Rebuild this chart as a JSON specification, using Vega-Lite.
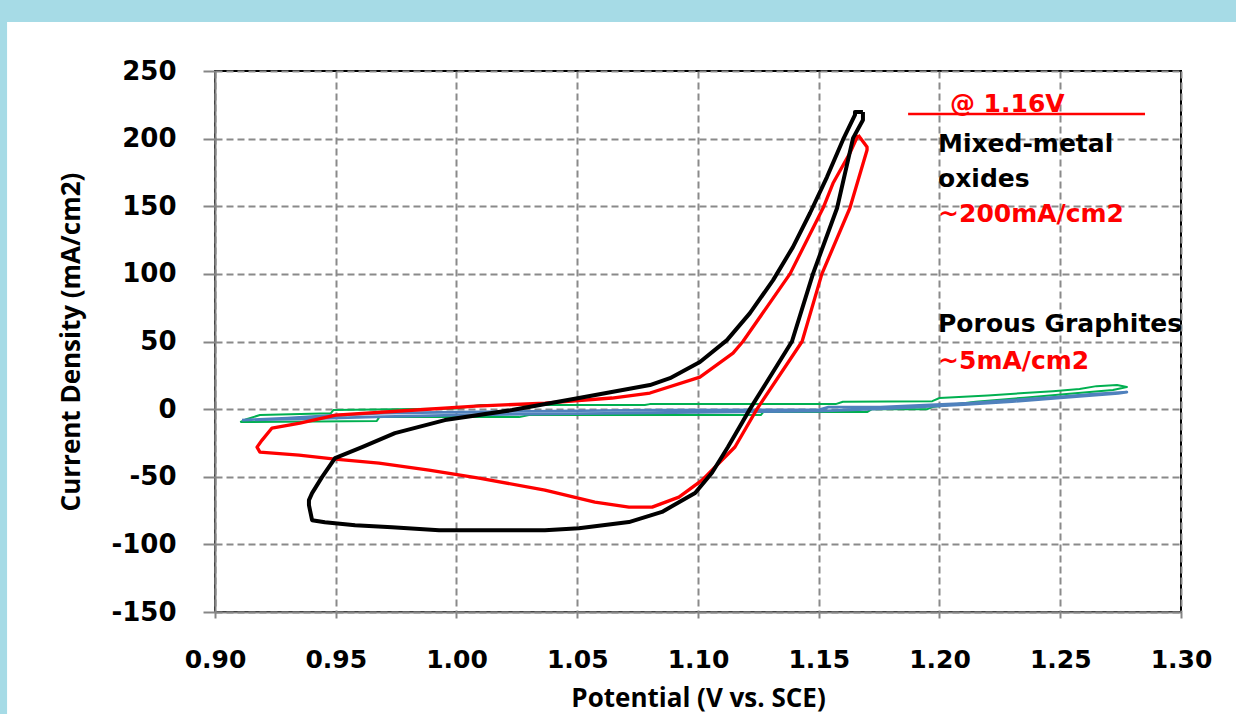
{
  "$schema": "https://vega.github.io/schema/vega-lite/v6.json",
  "width": 966,
  "height": 541,
  "autosize": {"type": "none"},
  "padding": {"left": 215, "top": 71, "right": 55, "bottom": 102},
  "background": "white",
  "config": {
    "view": {"stroke": "black", "strokeWidth": 2}
  },
  "datasets": {
    "curves": [
      {"s":"G","i":1,"v":0.9104,"c":-9.6},{"s":"G","i":2,"v":0.9130,"c":-7.5},{"s":"G","i":3,"v":0.9186,"c":-4.4},{"s":"G","i":4,"v":0.9480,"c":-3.0},{"s":"G","i":5,"v":0.9490,"c":-0.7},{"s":"G","i":6,"v":1.0000,"c":0.5},{"s":"G","i":7,"v":1.0100,"c":3.0},{"s":"G","i":8,"v":1.0780,"c":3.0},{"s":"G","i":9,"v":1.0800,"c":3.7},{"s":"G","i":10,"v":1.1570,"c":3.7},{"s":"G","i":11,"v":1.1600,"c":5.5},{"s":"G","i":12,"v":1.1970,"c":5.9},{"s":"G","i":13,"v":1.2000,"c":8.2},{"s":"G","i":14,"v":1.2200,"c":10.0},{"s":"G","i":15,"v":1.2350,"c":11.9},{"s":"G","i":16,"v":1.2470,"c":13.3},{"s":"G","i":17,"v":1.2580,"c":14.8},{"s":"G","i":18,"v":1.2650,"c":17.0},{"s":"G","i":19,"v":1.2735,"c":17.8},{"s":"G","i":20,"v":1.2776,"c":16.3},{"s":"G","i":21,"v":1.2718,"c":14.1},{"s":"G","i":22,"v":1.2550,"c":11.5},{"s":"G","i":23,"v":1.2350,"c":8.5},{"s":"G","i":24,"v":1.2150,"c":5.5},{"s":"G","i":25,"v":1.1970,"c":1.5},{"s":"G","i":26,"v":1.1950,"c":0.0},{"s":"G","i":27,"v":1.1720,"c":0.0},{"s":"G","i":28,"v":1.1700,"c":-2.2},{"s":"G","i":29,"v":1.1270,"c":-2.2},{"s":"G","i":30,"v":1.1260,"c":-4.4},{"s":"G","i":31,"v":1.0300,"c":-4.4},{"s":"G","i":32,"v":1.0260,"c":-5.9},{"s":"G","i":33,"v":0.9680,"c":-5.9},{"s":"G","i":34,"v":0.9670,"c":-8.8},{"s":"G","i":35,"v":0.9104,"c":-9.6},
      {"s":"L","i":1,"v":0.9112,"c":-8.1},{"s":"L","i":2,"v":0.9300,"c":-6.6},{"s":"L","i":3,"v":0.9500,"c":-4.4},{"s":"L","i":4,"v":0.9700,"c":-3.0},{"s":"L","i":5,"v":1.0000,"c":-2.2},{"s":"L","i":6,"v":1.0500,"c":-1.2},{"s":"L","i":7,"v":1.0800,"c":-0.7},{"s":"L","i":8,"v":1.1500,"c":-0.5},{"s":"L","i":9,"v":1.1540,"c":1.5},{"s":"L","i":10,"v":1.1754,"c":1.5},{"s":"L","i":11,"v":1.2126,"c":4.4},{"s":"L","i":12,"v":1.2304,"c":6.7},{"s":"L","i":13,"v":1.2487,"c":8.9},{"s":"L","i":14,"v":1.2636,"c":11.1},{"s":"L","i":15,"v":1.2776,"c":12.6},{"s":"L","i":16,"v":1.2740,"c":11.6},{"s":"L","i":17,"v":1.2500,"c":8.2},{"s":"L","i":18,"v":1.2300,"c":5.5},{"s":"L","i":19,"v":1.2100,"c":3.3},{"s":"L","i":20,"v":1.1800,"c":0.5},{"s":"L","i":21,"v":1.1500,"c":-1.5},{"s":"L","i":22,"v":1.1000,"c":-2.5},{"s":"L","i":23,"v":1.0500,"c":-3.3},{"s":"L","i":24,"v":1.0000,"c":-4.4},{"s":"L","i":25,"v":0.9700,"c":-5.5},{"s":"L","i":26,"v":0.9400,"c":-7.0},{"s":"L","i":27,"v":0.9112,"c":-8.1},
      {"s":"R","i":1,"v":1.1663,"c":202.7},{"s":"R","i":2,"v":1.1700,"c":193.8},{"s":"R","i":3,"v":1.1700,"c":191.6},{"s":"R","i":4,"v":1.1629,"c":148.7},{"s":"R","i":5,"v":1.1513,"c":100.0},{"s":"R","i":6,"v":1.1431,"c":50.0},{"s":"R","i":7,"v":1.1244,"c":0.0},{"s":"R","i":8,"v":1.1153,"c":-28.0},{"s":"R","i":9,"v":1.1017,"c":-52.5},{"s":"R","i":10,"v":1.0921,"c":-65.1},{"s":"R","i":11,"v":1.0810,"c":-72.5},{"s":"R","i":12,"v":1.0714,"c":-72.5},{"s":"R","i":13,"v":1.0573,"c":-68.8},{"s":"R","i":14,"v":1.0366,"c":-59.9},{"s":"R","i":15,"v":1.0093,"c":-51.0},{"s":"R","i":16,"v":0.9886,"c":-45.1},{"s":"R","i":17,"v":0.9679,"c":-39.9},{"s":"R","i":18,"v":0.9497,"c":-37.0},{"s":"R","i":19,"v":0.9348,"c":-34.0},{"s":"R","i":20,"v":0.9186,"c":-31.8},{"s":"R","i":21,"v":0.9174,"c":-28.1},{"s":"R","i":22,"v":0.9195,"c":-22.9},{"s":"R","i":23,"v":0.9236,"c":-14.0},{"s":"R","i":24,"v":0.9352,"c":-10.3},{"s":"R","i":25,"v":0.9500,"c":-4.4},{"s":"R","i":26,"v":0.9800,"c":-1.0},{"s":"R","i":27,"v":1.0080,"c":2.2},{"s":"R","i":28,"v":1.0366,"c":4.4},{"s":"R","i":29,"v":1.0644,"c":8.2},{"s":"R","i":30,"v":1.0801,"c":11.9},{"s":"R","i":31,"v":1.1008,"c":23.7},{"s":"R","i":32,"v":1.1145,"c":41.4},{"s":"R","i":33,"v":1.1186,"c":50.0},{"s":"R","i":34,"v":1.1381,"c":100.0},{"s":"R","i":35,"v":1.1518,"c":148.7},{"s":"R","i":36,"v":1.1559,"c":167.0},{"s":"R","i":37,"v":1.1629,"c":189.4},{"s":"R","i":38,"v":1.1663,"c":202.7},
      {"s":"B","i":1,"v":1.1683,"c":219.7},{"s":"B","i":2,"v":1.1683,"c":213.8},{"s":"B","i":3,"v":1.1642,"c":200.4},{"s":"B","i":4,"v":1.1576,"c":148.7},{"s":"B","i":5,"v":1.1476,"c":100.0},{"s":"B","i":6,"v":1.1389,"c":50.0},{"s":"B","i":7,"v":1.1215,"c":0.0},{"s":"B","i":8,"v":1.1124,"c":-28.0},{"s":"B","i":9,"v":1.1058,"c":-47.0},{"s":"B","i":10,"v":1.0988,"c":-62.0},{"s":"B","i":11,"v":1.0851,"c":-76.0},{"s":"B","i":12,"v":1.0714,"c":-83.5},{"s":"B","i":13,"v":1.0507,"c":-88.0},{"s":"B","i":14,"v":1.0366,"c":-89.5},{"s":"B","i":15,"v":0.9928,"c":-89.5},{"s":"B","i":16,"v":0.9733,"c":-87.3},{"s":"B","i":17,"v":0.9580,"c":-85.8},{"s":"B","i":18,"v":0.9455,"c":-83.6},{"s":"B","i":19,"v":0.9402,"c":-82.1},{"s":"B","i":20,"v":0.9389,"c":-71.0},{"s":"B","i":21,"v":0.9389,"c":-67.3},{"s":"B","i":22,"v":0.9402,"c":-62.1},{"s":"B","i":23,"v":0.9443,"c":-50.3},{"s":"B","i":24,"v":0.9497,"c":-36.2},{"s":"B","i":25,"v":0.9609,"c":-28.1},{"s":"B","i":26,"v":0.9745,"c":-17.7},{"s":"B","i":27,"v":0.9952,"c":-8.1},{"s":"B","i":28,"v":1.0230,"c":-0.7},{"s":"B","i":29,"v":1.0507,"c":8.2},{"s":"B","i":30,"v":1.0801,"c":17.8},{"s":"B","i":31,"v":1.0884,"c":22.9},{"s":"B","i":32,"v":1.1008,"c":34.8},{"s":"B","i":33,"v":1.1120,"c":51.0},{"s":"B","i":34,"v":1.1215,"c":71.0},{"s":"B","i":35,"v":1.1311,"c":95.4},{"s":"B","i":36,"v":1.1393,"c":119.8},{"s":"B","i":37,"v":1.1464,"c":145.0},{"s":"B","i":38,"v":1.1534,"c":171.6},{"s":"B","i":39,"v":1.1600,"c":199.0},{"s":"B","i":40,"v":1.1650,"c":217.5},{"s":"B","i":41,"v":1.1650,"c":219.7},{"s":"B","i":42,"v":1.1683,"c":219.7}
    ],
    "notes": [
      {"t":"@ 1.16V","s":"value","v":1.2043,"c":219.7},
      {"t":"Mixed-metal","s":"label","v":1.1994,"c":190.1},
      {"t":"oxides","s":"label","v":1.1994,"c":164.2},
      {"t":"~200mA/cm2","s":"value","v":1.1994,"c":138.3},
      {"t":"Porous Graphites","s":"label","v":1.1994,"c":57.0},
      {"t":"~5mA/cm2","s":"value","v":1.1994,"c":29.6}
    ],
    "underline": [
      {"v":1.1870,"v2":1.2851,"c":218.2}
    ],
    "frame": [
      {"v":0.78,"v2":0.8139,"c":-240,"c2":330},
      {"v":0.78,"v2":1.36,"c":286.2,"c2":330}
    ]
  },
  "encoding": {
    "x": {
      "field": "v", "type": "quantitative",
      "scale": {"domain": [0.9, 1.3], "nice": false, "zero": false},
      "axis": {
        "values": [0.9, 0.95, 1.0, 1.05, 1.1, 1.15, 1.2, 1.25, 1.3],
        "format": ".2f",
        "title": "Potential (V vs. SCE)",
        "labelFont": "DejaVu Sans", "labelFontSize": 25, "labelFontWeight": "bold", "labelColor": "black",
        "labelFlush": false, "labelOverlap": false,
        "tickSize": 6, "tickColor": "#868686", "tickWidth": 2, "labelPadding": 29,
        "domainColor": "#868686", "domainWidth": 2,
        "grid": true, "gridColor": "#8a8a8a", "gridDash": [7, 4], "gridWidth": 2,
        "titleFont": "Open Sans", "titleFontSize": 26, "titleFontWeight": "bold", "titleColor": "black", "titlePadding": 13
      }
    },
    "y": {
      "field": "c", "type": "quantitative",
      "scale": {"domain": [-150, 250], "nice": false, "zero": false},
      "axis": {
        "values": [-150, -100, -50, 0, 50, 100, 150, 200, 250],
        "labelExpr": "'' + datum.value",
        "title": "Current Density (mA/cm2)",
        "labelFont": "DejaVu Sans", "labelFontSize": 26, "labelFontWeight": "bold", "labelColor": "black",
        "labelOverlap": false,
        "tickSize": 12, "tickColor": "#868686", "tickWidth": 2, "labelPadding": 27,
        "domainColor": "#868686", "domainWidth": 2,
        "grid": true, "gridColor": "#8a8a8a", "gridDash": [7, 4], "gridWidth": 2,
        "titleFont": "Open Sans", "titleFontSize": 26, "titleFontWeight": "bold", "titleColor": "black", "titlePadding": 26
      }
    }
  },
  "layer": [
    {
      "data": {"name": "frame"},
      "mark": {"type": "rect", "color": "#a6dbe6", "clip": false},
      "encoding": {"x2": {"field": "v2"}, "y2": {"field": "c2"}}
    },
    {
      "data": {"name": "curves"},
      "mark": {"type": "line", "interpolate": "linear", "strokeJoin": "round"},
      "encoding": {
        "order": {"field": "i", "type": "quantitative"},
        "color": {
          "field": "s", "type": "nominal", "legend": null,
          "scale": {"domain": ["G", "L", "R", "B", "label", "value"], "range": ["#00b050", "#4f81bd", "#ff0000", "#000000", "#000000", "#ff0000"]}
        },
        "strokeWidth": {
          "field": "s", "type": "nominal", "legend": null,
          "scale": {"domain": ["G", "L", "R", "B"], "range": [2, 4, 2.5, 2.5]}
        }
      }
    },
    {
      "data": {"name": "underline"},
      "mark": {"type": "rule", "color": "#ff0000", "strokeWidth": 2.5},
      "encoding": {"x2": {"field": "v2"}}
    },
    {
      "data": {"name": "notes"},
      "mark": {"type": "text", "align": "left", "baseline": "alphabetic", "font": "DejaVu Sans", "fontSize": 25, "fontWeight": "bold"},
      "encoding": {
        "text": {"field": "t"},
        "color": {
          "field": "s", "type": "nominal", "legend": null,
          "scale": {"domain": ["G", "L", "R", "B", "label", "value"], "range": ["#00b050", "#4f81bd", "#ff0000", "#000000", "#000000", "#ff0000"]}
        }
      }
    }
  ]
}
